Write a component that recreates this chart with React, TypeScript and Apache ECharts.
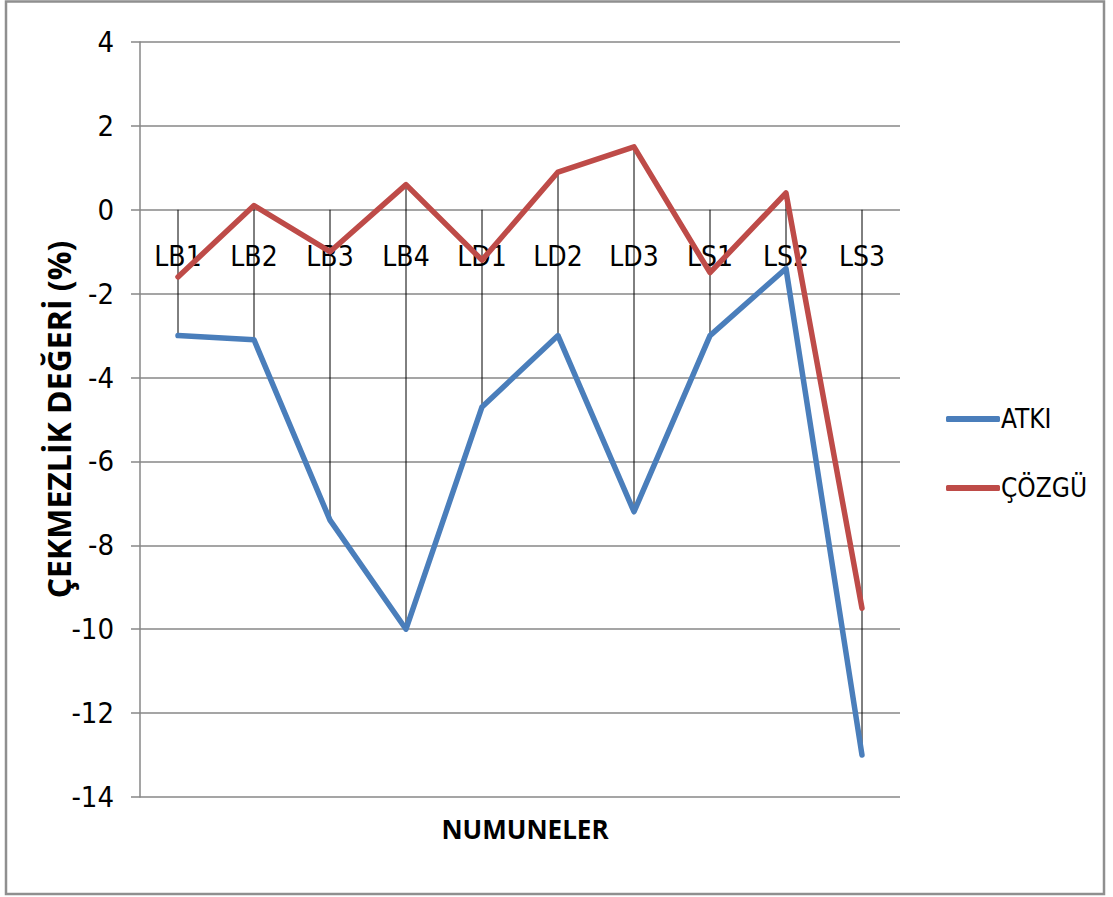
import React, { useEffect, useRef } from "react";
import * as echarts from "echarts";

// Sample codes on the category axis
const categories = ["LB1", "LB2", "LB3", "LB4", "LD1", "LD2", "LD3", "LS1", "LS2", "LS3"];
// Shrinkage values (%) per sample
const atki = [-3.0, -3.1, -7.4, -10.0, -4.7, -3.0, -7.2, -3.0, -1.4, -13.0];
const cozgu = [-1.6, 0.1, -1.0, 0.6, -1.2, 0.9, 1.5, -1.5, 0.4, -9.5];
// Value axis range and step
const yMin = -14;
const yMax = 4;
const yStep = 2;

// Condensed face for the plain texts, bold sans for the axis titles
const NARROW = "'DejaVu Sans Condensed', 'Liberation Sans Narrow', 'DejaVu Sans'; font-stretch: condensed";
const BOLD = "'Open Sans', 'DejaVu Sans', sans-serif";

export default function App() {
  const ref = useRef<HTMLDivElement>(null);

  useEffect(() => {
    if (!ref.current) return;
    const chart = echarts.init(ref.current, null, { renderer: "svg" });

    // Drop lines: from the highest point (or zero) down to the lowest point (or zero)
    const dropData = categories.map((c, i) => [
      i,
      Math.max(0, atki[i], cozgu[i]),
      Math.min(0, atki[i], cozgu[i]),
    ]);

    chart.setOption({
      animation: false,
      backgroundColor: "#ffffff",
      graphic: [
        {
          type: "rect",
          shape: { x: 6, y: 1.5, width: 1098, height: 892.5 },
          style: { fill: "none", stroke: "#8f8f8f", lineWidth: 2.5 },
          silent: true,
        },
      ],
      grid: {
        left: 140,
        top: 42,
        width: 760,
        height: 755,
        containLabel: false,
        outerBoundsMode: "none",
      },
      legend: {
        orient: "vertical",
        left: 941,
        top: 399,
        itemWidth: 54,
        itemHeight: 6,
        itemGap: 39,
        icon: "roundRect",
        textStyle: {
          fontFamily: NARROW,
          fontSize: 26,
          lineHeight: 30,
          color: "#000",
          padding: [0, 0, 0, -4],
        },
        data: ["ATKI", "ÇÖZGÜ"],
      },
      xAxis: {
        type: "category",
        data: categories,
        boundaryGap: true,
        position: "bottom",
        axisLine: { show: false, onZero: false },
        axisTick: { show: false },
        axisLabel: { fontFamily: NARROW, fontSize: 28, color: "#000", margin: 42, interval: 0 },
        splitLine: { show: false },
      },
      yAxis: {
        type: "value",
        min: yMin,
        max: yMax,
        interval: yStep,
        axisLine: { show: true, lineStyle: { color: "#878787", width: 1.5 } },
        axisTick: { show: true, length: 9, lineStyle: { color: "#878787", width: 1.5 } },
        axisLabel: { fontFamily: NARROW, fontSize: 29, color: "#000", margin: 26, showMinLabel: true, showMaxLabel: true },
        splitLine: { show: true, lineStyle: { color: "#878787", width: 1.5 } },
        name: "ÇEKMEZLİK DEĞERİ (%)",
        nameLocation: "middle",
        nameGap: 66,
        nameTextStyle: { fontFamily: BOLD, fontWeight: "bold", fontSize: 32, color: "#000" },
      },
      title: {
        text: "NUMUNELER",
        left: 520,
        top: 811,
        textAlign: "center",
        textStyle: { fontFamily: BOLD, fontWeight: "bold", fontSize: 26, color: "#000" },
      },
      series: [
        {
          type: "custom",
          name: "drop",
          silent: true,
          z: 1,
          data: dropData,
          encode: { x: 0, y: [1, 2] },
          renderItem: (params: any, api: any) => {
            const p1 = api.coord([api.value(0), api.value(1)]);
            const p2 = api.coord([api.value(0), api.value(2)]);
            return {
              type: "line",
              shape: { x1: p1[0], y1: p1[1], x2: p2[0], y2: p2[1] },
              style: { stroke: "#000", lineWidth: 1 },
            };
          },
        },
        {
          type: "line",
          name: "ATKI",
          data: atki,
          symbol: "none",
          z: 3,
          color: "#4a7ebb",
          lineStyle: { color: "#4a7ebb", width: 5.5, join: "round", cap: "round" },
        },
        {
          type: "line",
          name: "ÇÖZGÜ",
          data: cozgu,
          symbol: "none",
          z: 3,
          color: "#be4b48",
          lineStyle: { color: "#be4b48", width: 5.5, join: "round", cap: "round" },
        },
      ],
    });

    // Lift the category labels up to the zero line of the value axis
    const zeroY = chart.convertToPixel({ yAxisIndex: 0 }, 0) as number;
    const bottomY = chart.convertToPixel({ yAxisIndex: 0 }, yMin) as number;
    chart.setOption({ xAxis: { offset: zeroY - bottomY } });

    return () => chart.dispose();
  }, []);

  return (
    <div
      ref={ref}
      style={{ position: "fixed", left: 0, top: 0, width: 1113, height: 897 }}
    />
  );
}
